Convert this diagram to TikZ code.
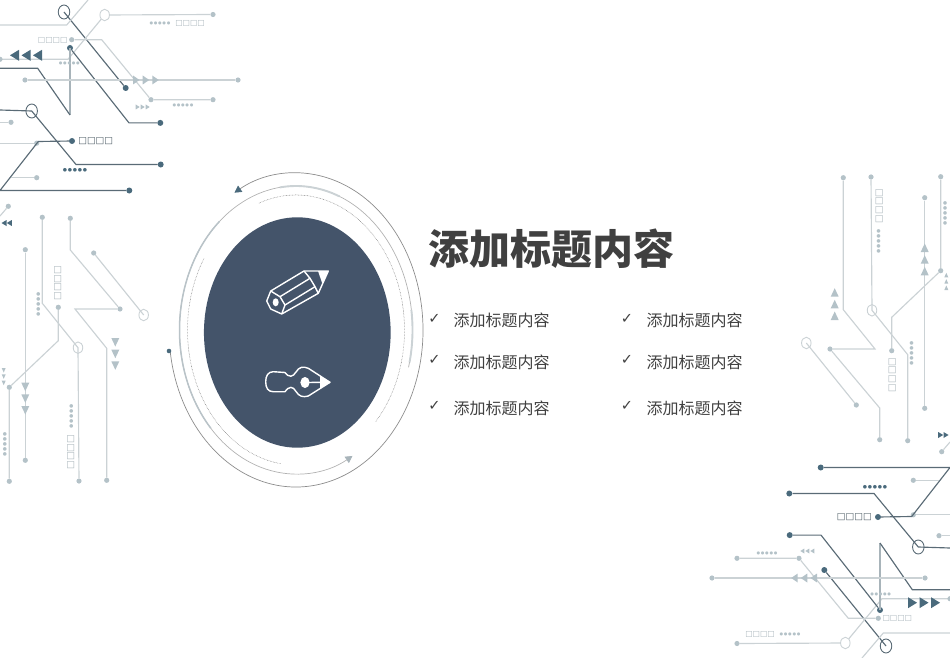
\documentclass[tikz,border=0pt]{standalone}
\usepackage{fontspec}
\usetikzlibrary{arrows.meta,shapes.geometric}
\newfontfamily\cjkfont{Noto Sans CJK SC}
\newfontfamily\symfont{DejaVu Sans}
\newfontfamily\dotfont[LetterSpace=17]{DejaVu Sans}
\definecolor{slate}{HTML}{44546A}
\definecolor{inkgray}{HTML}{404040}
\definecolor{wiredk}{HTML}{5A6B76}
\definecolor{padfill}{HTML}{4A6A7C}
\definecolor{wirelt}{HTML}{CBD2D5}
\definecolor{padlt}{HTML}{B4C2C8}
\definecolor{midgray}{HTML}{A8B4BA}
\newcommand{\ringarc}[5]{\draw[#1] ([shift={(296,330)}]#2:#4 and #5) arc[start angle=#2,end angle=#3,x radius=#4,y radius=#5];}
\tikzset{
  wiredark/.style={color=wiredk,line width=1.15},
  wirelight/.style={color=wirelt,line width=1.15},
  wiremid/.style={color=midgray,line width=1.15},
  paddark/.style={circle,fill=padfill,inner sep=0,minimum size=6},
  padlight/.style={circle,fill=padlt,inner sep=0,minimum size=5.2},
  ringdark/.style={ellipse,draw=wiredk,line width=0.9,inner sep=0,minimum width=11.5,minimum height=14},
  ringlight/.style={ellipse,draw=wirelt,line width=0.9,inner sep=0,minimum width=9.5,minimum height=11.5},
  tridark/.style={fill=padfill},
  trilight/.style={fill=padlt},
  boxdark/.style={text=wiredk!85!black,inner sep=0,font=\symfont\fontsize{9.2}{10}\selectfont},
  boxlight/.style={text=midgray,inner sep=0,font=\symfont\fontsize{7.8}{9}\selectfont},
  boxmid/.style={text=midgray,inner sep=0,font=\symfont\fontsize{9.2}{10}\selectfont},
  dotsdark/.style={text=padfill,inner sep=0,font=\dotfont\fontsize{4.8}{6}\selectfont},
  dotslight/.style={text=padlt,inner sep=0,font=\dotfont\fontsize{4.1}{6}\selectfont},
  dotsmid/.style={text=padlt,inner sep=0,font=\dotfont\fontsize{4.8}{6}\selectfont},
  titletext/.style={text=inkgray,inner sep=0,font=\cjkfont\bfseries\fontsize{41}{46}\selectfont},
  itemtext/.style={text=inkgray,inner sep=0,font=\cjkfont\fontsize{16}{18}\selectfont},
  checktext/.style={text=inkgray,inner sep=0,font=\symfont\fontsize{14.5}{16}\selectfont},
  icon/.style={draw=white,line width=1.4,line join=round}
}
\newcommand{\circuitpart}{
    % Upper block
    \node[ringdark] (ra) at (64,12) {};
    \node[paddark] (pa) at (125.7,88) {};
    \draw[wiredark] (ra.center) -- (pa);
    \coordinate (ba) at (0,25);
    \coordinate (bb) at (66.7,25);
    \coordinate (bc) at (88,0);
    \draw[wirelight] (ba) -- (bb) -- (bc);
    \node[ringlight] (rb) at (104.7,15) {};
    \node[padlight] (pb) at (213,14.5) {};
    \coordinate (bd) at (68,59.3);
    \coordinate (be) at (0,59.3);
    \draw[wirelight] (pb) -- (rb) -- (bd) -- (be);
    \node[padlight] (pc) at (0,59.3) {};
    \node[paddark] (pd) at (70,48) {};
    \coordinate (bf) at (70,115);
    \coordinate (bg) at (37.7,68.3);
    \coordinate (bh) at (0,68.3);
    \draw[wiremid] (pd.center) -- (bf);
    \draw[wiredark] (bf) -- (bg) -- (bh);
    \coordinate (bi) at (129,122.9);
    \node[paddark] (pe) at (160.3,122.9) {};
    \draw[wiredark] (pd) -- (bi) -- (pe);
    \node[padlight] (pf) at (71.7,39.7) {};
    \coordinate (bj) at (101.7,39.7);
    \node[padlight] (pg) at (151,99.7) {};
    \node[padlight] (ph) at (213,99.7) {};
    \draw[wirelight] (pf) -- (bj) -- (pg) -- (ph);
    \node[padlight] (pi) at (25,80) {};
    \node[padlight] (pj) at (238,80) {};
    \draw[wirelight] (pi) -- (pj);
    \node[ringdark] (rc) at (31.7,111) {};
    \coordinate (bk) at (0,110);
    \coordinate (bl) at (76,164.5);
    \node[paddark] (pk) at (160.7,164.5) {};
    \draw[wiredark] (bk) -- (rc.center) -- (bl) -- (pk);
    \node[padlight] (pl) at (11,122.3) {};
    \coordinate (bm) at (0,122.3);
    \draw[wirelight] (bm) -- (pl);
    \node[padlight] (pm) at (36.7,143.2) {};
    \coordinate (bn) at (0,143.2);
    \draw[wirelight] (bn) -- (pm);
    \node[paddark] (pn) at (72,141) {};
    \coordinate (bo) at (38.3,141.5);
    \coordinate (bp) at (0,190.5);
    \node[paddark] (po) at (129.3,190.5) {};
    \draw[wiredark] (pn) -- (bo) -- (bp) -- (po);
    \node[padlight] (pp) at (36.7,177.7) {};
    \coordinate (bq) at (11.2,177.7);
    \draw[wirelight] (bq) -- (pp);
    \node[padlight] (pq) at (8.3,206.3) {};
    \coordinate (br) at (0,216);
    \draw[wirelight] (pq) -- (br);
    % Text Node
    \node[boxlight] (ta) at (52.7,40) {□□□□};
    \node[boxlight] (tb) at (190,23.7) {□□□□};
    \node[boxdark] (tc) at (95.7,141.3) {□□□□};
    \node[dotslight] (da) at (160,23.7) {●●●●●};
    \node[dotslight] (db) at (69.3,63.7) {●●●●●};
    \node[dotslight] (dc) at (183,105) {●●●●●};
    \node[dotsdark] (dd) at (75,170.3) {●●●●●};
    % Triangles
    \fill[tridark] (14.5,55.3) +(4.5,-5.5) -- +(4.5,5.5) -- +(-4.5,0) -- cycle;
    \fill[tridark] (26,55.3) +(4.5,-5.5) -- +(4.5,5.5) -- +(-4.5,0) -- cycle;
    \fill[tridark] (37.5,55.3) +(4.5,-5.5) -- +(4.5,5.5) -- +(-4.5,0) -- cycle;
    \fill[trilight] (136,80) +(-3,-4.5) -- +(-3,4.5) -- +(3.5,0) -- cycle;
    \fill[trilight] (145.7,80) +(-3,-4.5) -- +(-3,4.5) -- +(3.5,0) -- cycle;
    \fill[trilight] (155.3,80) +(-3,-4.5) -- +(-3,4.5) -- +(3.5,0) -- cycle;
    \fill[trilight] (137.7,107) +(-2,-2.5) -- +(-2,2.5) -- +(2,0) -- cycle;
    \fill[trilight] (142.7,107) +(-2,-2.5) -- +(-2,2.5) -- +(2,0) -- cycle;
    \fill[trilight] (147.7,107) +(-2,-2.5) -- +(-2,2.5) -- +(2,0) -- cycle;
    \fill[tridark] (4,223) +(2.5,-3) -- +(2.5,3) -- +(-2.5,0) -- cycle;
    \fill[tridark] (9.3,223) +(2.5,-3) -- +(2.5,3) -- +(-2.5,0) -- cycle;
    % Lower block
    \node[padlight] (qa) at (42.3,217.3) {};
    \coordinate (ca) at (42.3,303.3);
    \node[ringlight] (rd) at (78,347.7) {};
    \node[padlight] (qb) at (79,481) {};
    \draw[wirelight] (qa) -- (ca) -- (rd.center) -- (qb);
    \node[padlight] (qc) at (70.3,218.3) {};
    \coordinate (cb) at (70.3,250);
    \node[padlight] (qd) at (120,309) {};
    \coordinate (cc) at (75,309);
    \coordinate (cd) at (106.7,348.3);
    \node[padlight] (qe) at (106.7,480.3) {};
    \draw[wirelight] (qc) -- (cb) -- (qd) -- (cc) -- (cd) -- (qe);
    \node[padlight] (qf) at (93.7,253) {};
    \node[ringlight] (re) at (143.7,315) {};
    \draw[wirelight] (qf) -- (re.center);
    \node[padlight] (qg) at (25.3,249.7) {};
    \node[padlight] (qh) at (25.3,460.3) {};
    \draw[wirelight] (qg) -- (qh);
    \node[padlight] (qi) at (58.3,307.3) {};
    \coordinate (ce) at (58.3,340.7);
    \node[padlight] (qj) at (9.3,387.3) {};
    \node[padlight] (qk) at (9.3,481.3) {};
    \draw[wirelight] (qi) -- (ce) -- (qj) -- (qk);
    % Text Node
    \node[boxmid,rotate=90] (td) at (57.7,283.3) {□□□□};
    \node[boxmid,rotate=90] (te) at (70.7,452.3) {□□□□};
    \node[dotsmid,rotate=90] (de) at (38.3,304.3) {●●●●●};
    \node[dotsmid,rotate=90] (df) at (5,444.3) {●●●●●};
    \node[dotsmid,rotate=90] (dg) at (71.3,416.3) {●●●●●};
    % Triangles
    \fill[trilight] (25.3,386.7) +(-4,-4) -- +(4,-4) -- +(0,4.5) -- cycle;
    \fill[trilight] (25.3,398.3) +(-4,-4) -- +(4,-4) -- +(0,4.5) -- cycle;
    \fill[trilight] (25.3,410) +(-4,-4) -- +(4,-4) -- +(0,4.5) -- cycle;
    \fill[trilight] (115.3,342) +(-4,-4) -- +(4,-4) -- +(0,4.5) -- cycle;
    \fill[trilight] (115.3,353.7) +(-4,-4) -- +(4,-4) -- +(0,4.5) -- cycle;
    \fill[trilight] (115.3,365.3) +(-4,-4) -- +(4,-4) -- +(0,4.5) -- cycle;
    \fill[trilight] (3.7,370) +(-2,-2) -- +(2,-2) -- +(0,2.5) -- cycle;
    \fill[trilight] (3.7,376.3) +(-2,-2) -- +(2,-2) -- +(0,2.5) -- cycle;
    \fill[trilight] (3.7,382.7) +(-2,-2) -- +(2,-2) -- +(0,2.5) -- cycle;
}
\begin{document}
\begin{tikzpicture}[x=1pt,y=1pt,yscale=-1,xscale=1]
\useasboundingbox (0,0) rectangle (950,658);
\begin{scope}[name prefix=tl]
\circuitpart
\end{scope}
\begin{scope}[name prefix=bo,shift={(950,658)},rotate=180]
\circuitpart
\end{scope}

% Rings
\ringarc{color=gray!60,line width=0.7,-{Triangle[length=7,width=7.5,color=midgray]}}{375}{61}{116.5}{144}
\ringarc{color=wirelt,line width=1.9}{-98}{-68}{116.5}{144}
\ringarc{color=midgray!80,line width=1.5}{137}{229}{116.5}{144}
\ringarc{color=wirelt,line width=1.9}{-8}{13}{116.5}{144}
\ringarc{color=gray!90,line width=0.7,-{Triangle[length=7,width=7.5,color=padfill]}}{172}{-119}{127}{157}
\ringarc{color=gray,line width=0.5,dash pattern=on 0.6 off 0.9}{-110}{43}{108.5}{135}
\ringarc{color=gray,line width=0.5,dash pattern=on 0.6 off 0.9}{98}{212}{108.5}{135}
\node[circle,fill=padfill,inner sep=0,minimum size=4.6] (ringpad) at (169,351) {};

% Center disc
\node[ellipse,fill=slate,inner sep=0,minimum width=186.7,minimum height=230.4] (disc) at (297.3,332.5) {};

% Pencil
\draw[icon] (304,271) -- (328.3,271) -- (318.3,293.3) -- (281.7,314) -- (270.7,309) -- (266.7,301) -- (270.7,291) -- cycle;
\draw[icon] (270.7,291) -- (280,296.7) -- (285,305) -- (281.7,314);
\draw[icon] (280,296.7) -- (310,278.3);
\draw[icon] (285,305) -- (315,286.7);
\draw[icon] (304,271) -- (310,278.3) -- (315,286.7) -- (318.3,293.3);
\fill[white] (318,271) -- (328.3,271) -- (322.5,284) -- cycle;
\fill[white] (275.7,302.3) circle [x radius=3,y radius=4];

% Pen nib
\draw[icon] (330,382.3) -- (308.3,368.3) .. controls (303,366) and (299,367) .. (296,372) .. controls (293,377) and (289,378) .. (285,372.5) -- (273.3,371.7) .. controls (268,371.7) and (265.7,376) .. (265.7,381.7) .. controls (265.7,388) and (268,391.7) .. (273.3,391.7) -- (285,391.7) .. controls (289,386) and (293,386) .. (296,391.5) .. controls (299,396.5) and (303,397.5) .. (308.3,396) -- cycle;
\fill[white] (305,382.5) circle [x radius=4.6,y radius=5.6];
\draw[icon] (305,382.5) -- (330,382.3);
\fill[white] (320,376) -- (330,382.3) -- (320,388.5) -- cycle;

% Text Node
\node[titletext] (title) at (551.5,249) {添加标题内容};
\node[itemtext] (itema) at (501.5,320) {添加标题内容};
\node[itemtext] (itemb) at (694.5,320) {添加标题内容};
\node[itemtext] (itemc) at (501.5,362) {添加标题内容};
\node[itemtext] (itemd) at (694.5,362) {添加标题内容};
\node[itemtext] (iteme) at (501.5,408) {添加标题内容};
\node[itemtext] (itemf) at (694.5,408) {添加标题内容};
\node[checktext] (checka) at (434.5,318.5) {✓};
\node[checktext] (checkb) at (627,318.5) {✓};
\node[checktext] (checkc) at (434.5,360) {✓};
\node[checktext] (checkd) at (627,360) {✓};
\node[checktext] (checke) at (434.5,406) {✓};
\node[checktext] (checkf) at (627,406) {✓};
\end{tikzpicture}
\end{document}
